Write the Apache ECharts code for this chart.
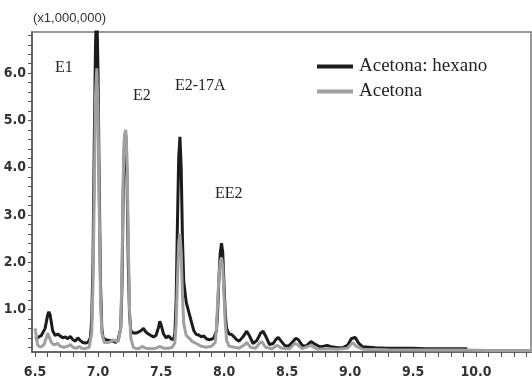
<!DOCTYPE html>
<html>
<head>
<meta charset="utf-8">
<script src="https://cdn.jsdelivr.net/npm/echarts@6/dist/echarts.min.js"></script>
<style>html,body{margin:0;padding:0;background:#fff}#c{width:532px;height:380px}</style>
</head>
<body>
<div id="c"></div>
<script>
// Retention time (min) / abundance (x1,000,000)
var hexanoX = [6.50,6.52,6.55,6.58,6.60,6.61,6.62,6.64,6.66,6.68,6.70,6.72,6.74,6.76,6.78,6.80,6.82,6.84,6.86,6.88,6.90,6.92,6.94,6.95,6.96,6.97,6.98,6.99,7.00,7.01,7.02,7.03,7.04,7.06,7.08,7.10,7.12,7.14,7.16,7.18,7.19,7.20,7.21,7.22,7.23,7.24,7.25,7.26,7.28,7.30,7.32,7.34,7.36,7.38,7.40,7.42,7.44,7.46,7.48,7.49,7.50,7.52,7.54,7.56,7.58,7.60,7.61,7.62,7.63,7.64,7.65,7.66,7.67,7.68,7.70,7.72,7.74,7.76,7.78,7.80,7.82,7.84,7.86,7.88,7.90,7.92,7.94,7.95,7.96,7.97,7.98,7.99,8.00,8.01,8.02,8.04,8.06,8.08,8.10,8.12,8.15,8.18,8.20,8.23,8.26,8.29,8.31,8.33,8.36,8.39,8.41,8.43,8.45,8.48,8.51,8.54,8.57,8.59,8.62,8.65,8.67,8.69,8.72,8.76,8.79,8.82,8.85,8.90,8.94,8.98,9.01,9.04,9.07,9.10,9.15,9.20,9.30,9.40,9.50,9.60,9.70,9.80,9.93];
var hexanoY = [0.38,0.40,0.45,0.60,0.88,0.95,0.88,0.55,0.45,0.48,0.44,0.40,0.42,0.38,0.43,0.36,0.33,0.40,0.34,0.30,0.29,0.30,0.40,0.80,2.0,4.5,6.6,7.5,6.0,3.5,1.5,0.6,0.40,0.36,0.35,0.34,0.33,0.30,0.36,0.6,1.5,3.5,4.6,4.7,3.8,2.0,0.9,0.55,0.50,0.50,0.52,0.55,0.60,0.52,0.48,0.45,0.42,0.45,0.62,0.75,0.68,0.48,0.40,0.44,0.38,0.36,0.50,1.2,2.8,4.2,4.65,4.0,2.5,1.6,1.15,0.95,0.75,0.55,0.47,0.46,0.42,0.44,0.38,0.36,0.37,0.40,0.55,1.0,1.7,2.2,2.4,2.2,1.5,0.9,0.6,0.48,0.47,0.42,0.36,0.33,0.42,0.54,0.45,0.28,0.34,0.50,0.54,0.44,0.26,0.28,0.36,0.41,0.34,0.24,0.22,0.30,0.39,0.36,0.24,0.22,0.27,0.32,0.27,0.21,0.22,0.24,0.21,0.19,0.19,0.24,0.38,0.41,0.28,0.21,0.20,0.19,0.18,0.18,0.18,0.17,0.17,0.17,0.17];
var acetonaX = [6.50,6.51,6.52,6.54,6.57,6.59,6.60,6.61,6.63,6.65,6.68,6.70,6.73,6.76,6.78,6.80,6.83,6.85,6.87,6.90,6.93,6.95,6.96,6.97,6.98,6.99,7.00,7.01,7.02,7.03,7.05,7.08,7.10,7.12,7.14,7.16,7.18,7.19,7.20,7.21,7.22,7.23,7.24,7.25,7.26,7.28,7.30,7.33,7.35,7.38,7.42,7.46,7.49,7.52,7.56,7.59,7.61,7.62,7.63,7.64,7.65,7.66,7.67,7.68,7.70,7.72,7.75,7.78,7.82,7.86,7.90,7.93,7.94,7.95,7.96,7.97,7.98,7.99,8.00,8.01,8.02,8.04,8.08,8.12,8.16,8.18,8.21,8.25,8.28,8.30,8.33,8.38,8.42,8.46,8.52,8.56,8.58,8.62,8.69,8.74,8.82,8.90,8.98,9.02,9.05,9.10,9.30,9.60,9.90,10.10,10.46];
var acetonaY = [0.60,0.45,0.25,0.20,0.25,0.40,0.50,0.48,0.30,0.25,0.28,0.22,0.20,0.22,0.26,0.20,0.18,0.22,0.18,0.17,0.20,0.5,1.5,3.5,5.5,6.1,5.2,3.0,1.2,0.5,0.30,0.30,0.32,0.36,0.33,0.32,0.6,1.8,3.8,4.7,4.8,4.2,2.5,1.0,0.4,0.20,0.17,0.18,0.22,0.18,0.17,0.18,0.22,0.18,0.18,0.20,0.30,0.7,1.6,2.4,2.6,2.2,1.3,0.7,0.45,0.40,0.32,0.28,0.22,0.20,0.22,0.30,0.6,1.2,1.7,2.0,2.1,1.9,1.3,0.7,0.35,0.22,0.20,0.18,0.25,0.30,0.20,0.18,0.28,0.32,0.20,0.17,0.24,0.18,0.17,0.28,0.26,0.17,0.24,0.16,0.17,0.16,0.18,0.30,0.22,0.16,0.15,0.14,0.14,0.13,0.13];
var xLabelValues = [6.5,7.0,7.5,8.0,8.5,9.0,9.5,10.0];
var xTickValues = [6.5,6.6,6.7,6.8,6.9,7.0,7.1,7.2,7.3,7.4,7.5,7.6,7.7,7.8,7.9,8.0,8.1,8.2,8.3,8.4,8.5,8.6,8.7,8.8,8.9,9.0,9.1,9.2,9.3,9.4,9.5,9.6,9.7,9.8,9.9,10.0,10.1,10.2,10.3,10.4];
var yLabelValues = [1,2,3,4,5,6];
var yTickValues = [0.2,0.4,0.6,0.8,1.0,1.2,1.4,1.6,1.8,2.0,2.2,2.4,2.6,2.8,3.0,3.2,3.4,3.6,3.8,4.0,4.2,4.4,4.6,4.8,5.0,5.2,5.4,5.6,5.8,6.0,6.2,6.4,6.6,6.8];
var seriesNames = ['Acetona: hexano','Acetona'];
var peakNames = ['E1','E2','E2-17A','EE2'];

function zip(xs, ys){ return xs.map(function(x,i){ return [x, ys[i]]; }); }

var axisFont = {fontFamily:"'Liberation Sans Narrow','DejaVu Sans Condensed',sans-serif", fontWeight:'bold', fontSize:14, color:'#333'};
var serif = "'Liberation Serif','DejaVu Serif',serif";

var chart = echarts.init(document.getElementById('c'));
chart.setOption({
  animation:false,
  backgroundColor:'#fff',
  grid:{left:32, right:1, top:32, bottom:28, show:true, borderColor:'#777', borderWidth:1.5},
  legend:{
    left:312, top:52, orient:'vertical', itemWidth:36, itemHeight:4, itemGap:6, icon:'rect',
    textStyle:{fontFamily:serif, fontSize:19, color:'#222', padding:[0,0,0,1]},
    data:seriesNames
  },
  xAxis:{
    type:'value', min:6.476, max:10.436,
    axisLine:{lineStyle:{color:'#555', width:1.5}},
    axisTick:{show:true, length:5, customValues:xTickValues, lineStyle:{color:'#555'}},
    axisLabel:Object.assign({customValues:xLabelValues, margin:13, formatter:function(v){return v.toFixed(1);}}, axisFont),
    splitLine:{show:false}
  },
  yAxis:{
    type:'value', min:0.1, max:6.87,
    axisLine:{show:true, lineStyle:{color:'#555', width:1.5}},
    axisTick:{show:true, length:4, customValues:yTickValues, lineStyle:{color:'#555'}},
    axisLabel:Object.assign({customValues:yLabelValues, margin:6, formatter:function(v){return v.toFixed(1);}}, axisFont),
    splitLine:{show:false}
  },
  graphic:[
    {type:'text', left:33, top:12, style:{text:'(x1,000,000)', font:"13px 'Liberation Sans',Arial,sans-serif", fill:'#333'}},
    {type:'text', left:55, top:60, style:{text:peakNames[0], font:'16px '+serif, fill:'#222'}},
    {type:'text', left:133, top:88, style:{text:peakNames[1], font:'16px '+serif, fill:'#222'}},
    {type:'text', left:175, top:78, style:{text:peakNames[2], font:'16px '+serif, fill:'#222'}},
    {type:'text', left:215, top:186, style:{text:peakNames[3], font:'16px '+serif, fill:'#222'}}
  ],
  series:[
    {name:seriesNames[0], type:'line', data:zip(hexanoX,hexanoY), showSymbol:false, symbol:'none', clip:true,
     lineStyle:{color:'#1c1c1c', width:3}, itemStyle:{color:'#1c1c1c'}},
    {name:seriesNames[1], type:'line', data:zip(acetonaX,acetonaY), showSymbol:false, symbol:'none', clip:true,
     lineStyle:{color:'#a0a0a0', width:3}, itemStyle:{color:'#a0a0a0'}}
  ]
});
</script>
</body>
</html>
